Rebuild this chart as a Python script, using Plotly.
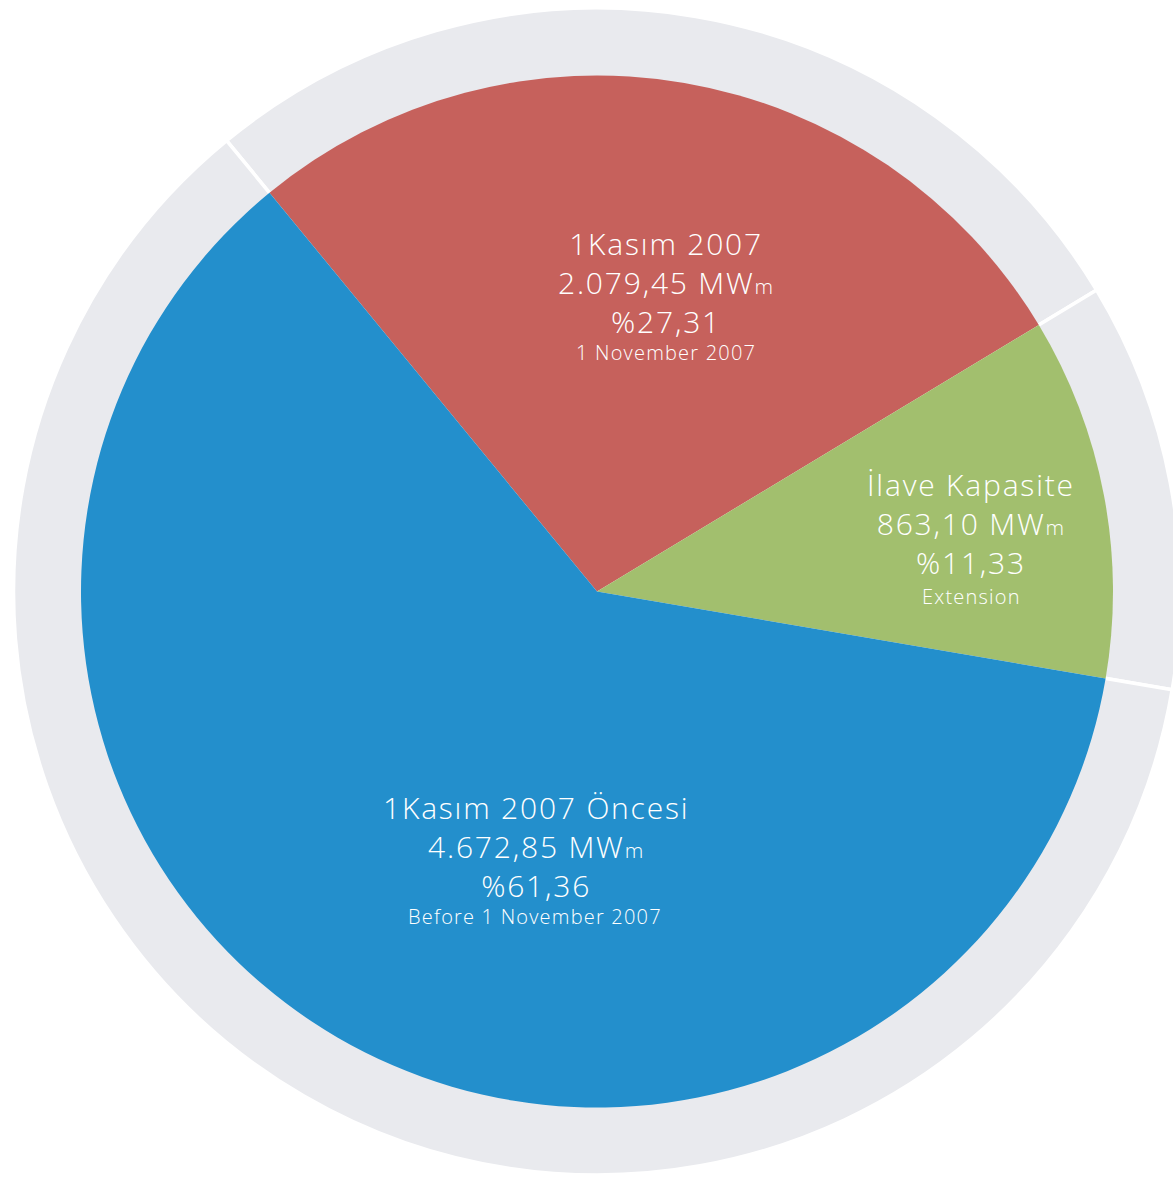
import plotly.graph_objects as go

# ---- data ----
labels_tr = ["1Kasım 2007", "İlave Kapasite", "1Kasım 2007 Öncesi"]
labels_en = ["1 November 2007", "Extension", "Before 1 November 2007"]
values_mw = [2079.45, 863.10, 4672.85]
percents = [27.31, 11.33, 61.36]

# ---- style ----
W, H = 1181, 1177          # page is clipped at 1173 px; ring runs past the right edge
slice_colors = ["#c6615c", "#a2bf6e", "#238fcc"]
ring_color = "#e9eaee"
font_family = "'Open Sans', Lato, sans-serif"
start_rotation = -39.4

# centre / radii in pixels
cx, cy = 597, 591.5
r_out = 583.5
r_in = 516

# label anchor positions (pixels) for main block and english subtitle
main_pos = [(666, 283), (971, 523.5), (536, 846)]
sub_pos = [(666, 352), (971, 596), (535, 916)]


def tr_num(v):
    s = f"{v:,.2f}"
    return s.replace(",", "_").replace(".", ",").replace("_", ".")


def px(x, y):
    return x / W, 1 - y / H


def dom(r):
    return dict(x=[(cx - r) / W, (cx + r) / W],
                y=[1 - (cy + r) / H, 1 - (cy - r) / H])


def spaced(s, ls):
    return f"<span style='letter-spacing:{ls}px'>{s}</span>"


fig = go.Figure()

# outer grey ring with white separators
fig.add_trace(go.Pie(
    values=values_mw, labels=labels_tr, sort=False, direction="clockwise",
    rotation=start_rotation, textinfo="none", hoverinfo="skip",
    marker=dict(colors=[ring_color] * 3, line=dict(color="white", width=3.5)),
    domain=dom(r_out), showlegend=False,
))

fig.add_trace(go.Pie(
    values=values_mw, labels=labels_tr, sort=False, direction="clockwise",
    rotation=start_rotation, textinfo="none", hoverinfo="label+value+percent",
    marker=dict(colors=slice_colors, line=dict(width=0)),
    domain=dom(r_in), showlegend=False,
))

for i in range(3):
    mx, my = px(*main_pos[i])
    line1 = spaced(labels_tr[i], 1.8)
    line2 = spaced(f"{tr_num(values_mw[i])} MW", 1.8) + \
        "<span style='font-size:21px;letter-spacing:1px'>m</span>"
    line3 = spaced(f"%{tr_num(percents[i])}", 1.8)
    fig.add_annotation(x=mx, y=my, xref="paper", yref="paper",
                       text=f"{line1}<br>{line2}<br>{line3}",
                       showarrow=False, xanchor="center", yanchor="middle",
                       font=dict(size=30, color="white", family=font_family, weight=300))
    sx, sy = px(*sub_pos[i])
    fig.add_annotation(x=sx, y=sy, xref="paper", yref="paper",
                       text=spaced(labels_en[i], 1.2),
                       showarrow=False, xanchor="center", yanchor="middle",
                       font=dict(size=20, color="white", family=font_family, weight=300))

fig.update_layout(width=W, height=H, margin=dict(l=0, r=0, t=0, b=0),
                  paper_bgcolor="white", plot_bgcolor="white", showlegend=False)

fig.write_html("out.html", config={"displayModeBar": False},
               post_script="document.body.style.margin='0';"
                           "document.body.style.overflow='hidden';"
                           "document.documentElement.style.overflow='hidden';")
